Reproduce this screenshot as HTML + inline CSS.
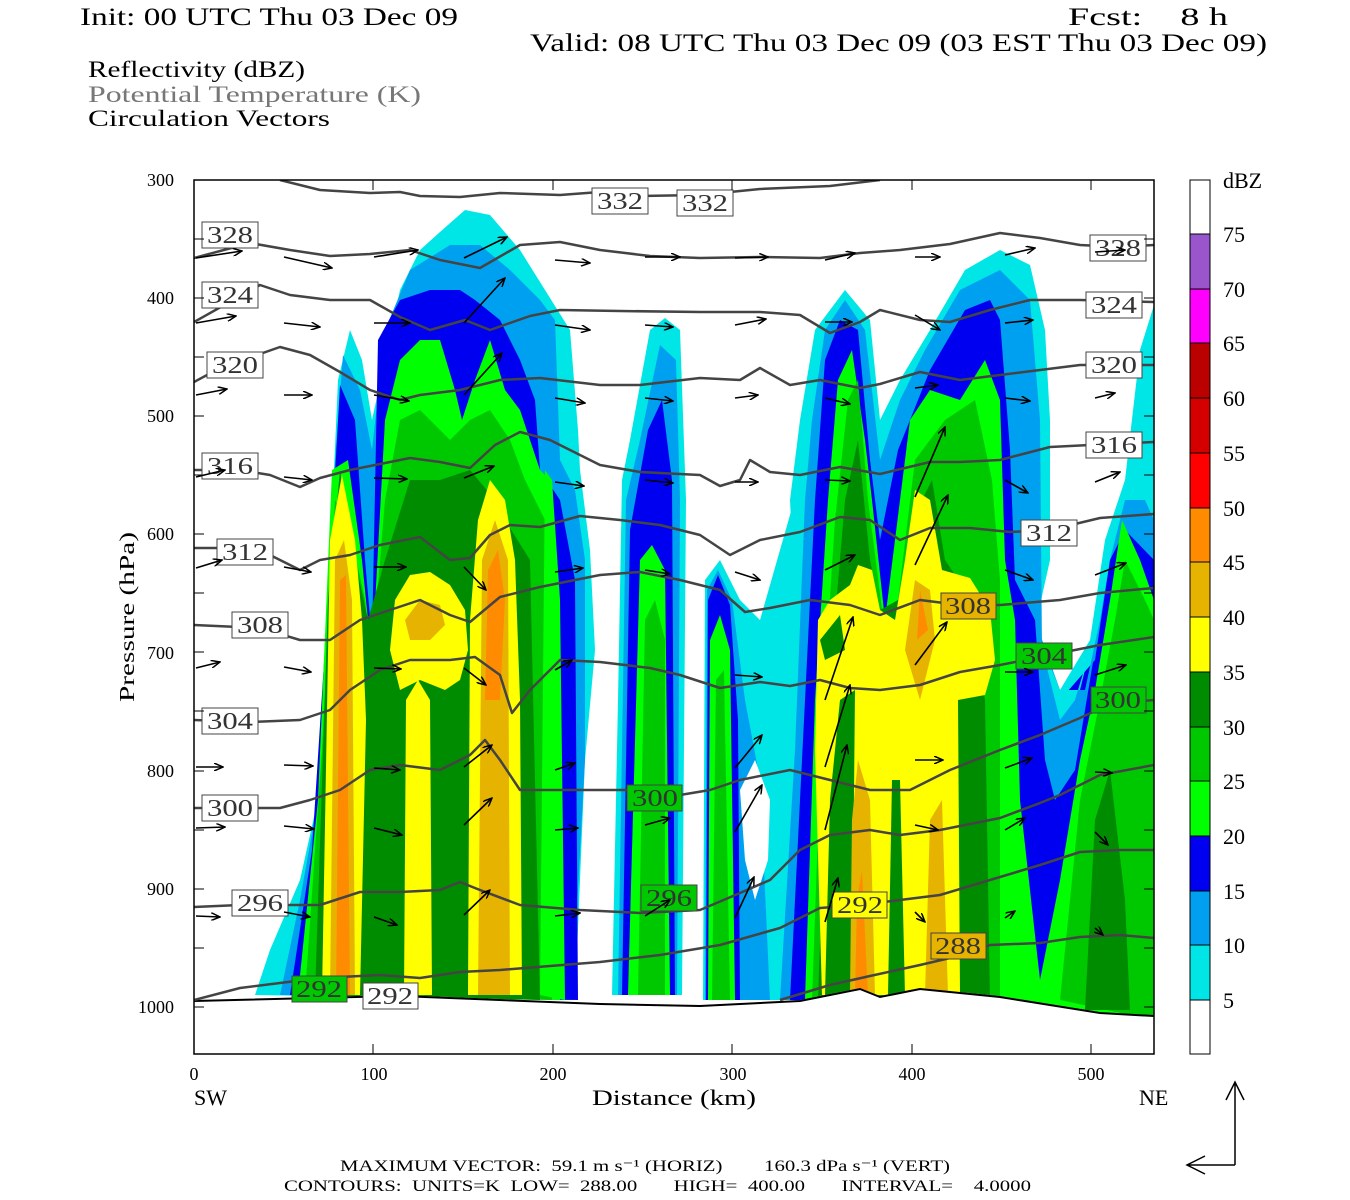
<!DOCTYPE html>
<html><head><meta charset="utf-8"><style>
html,body{margin:0;padding:0;background:#fff;}
svg{display:block;}
text{font-family:"Liberation Serif",serif;fill:#000;white-space:pre;}
</style></head><body>
<svg width="1350" height="1200" viewBox="0 0 1350 1200" xmlns="http://www.w3.org/2000/svg">
<defs>
<marker id="ah" markerWidth="10" markerHeight="8" refX="9" refY="4" orient="auto" markerUnits="userSpaceOnUse">
<path d="M0,0 L9,4 L0,8" fill="none" stroke="#000" stroke-width="1.5"/>
</marker>
<clipPath id="pc"><rect x="194" y="180" width="960" height="874"/></clipPath>
</defs>
<rect width="1350" height="1200" fill="#fff"/>

<!-- header -->
<text x="80" y="25" font-size="25" textLength="378" lengthAdjust="spacingAndGlyphs">Init: 00 UTC Thu 03 Dec 09</text>
<text x="1068" y="25" font-size="25" textLength="160" lengthAdjust="spacingAndGlyphs">Fcst:    8 h</text>
<text x="530" y="51" font-size="25" textLength="737" lengthAdjust="spacingAndGlyphs">Valid: 08 UTC Thu 03 Dec 09 (03 EST Thu 03 Dec 09)</text>
<text x="88" y="77" font-size="23" textLength="217" lengthAdjust="spacingAndGlyphs">Reflectivity (dBZ)</text>
<text x="88" y="102" font-size="23" textLength="333" lengthAdjust="spacingAndGlyphs" style="fill:#777">Potential Temperature (K)</text>
<text x="88" y="126" font-size="23" textLength="242" lengthAdjust="spacingAndGlyphs">Circulation Vectors</text>

<g clip-path="url(#pc)">
<!-- LEFT CLUSTER -->
<path fill="#00e6e6" d="M255,995 L270,950 L300,880 L320,790 L330,560 L338,380 L350,330 L362,360 L372,420 L385,360 L400,290 L420,250 L440,232 L465,210 L490,215 L520,250 L545,290 L570,330 L578,430 L580,470 L590,550 L595,650 L585,760 L575,1000 Z"/>
<path fill="#00a0f0" d="M280,995 L300,900 L318,800 L332,500 L343,355 L360,390 L372,450 L385,330 L410,270 L450,245 L480,245 L510,270 L540,300 L555,320 L560,460 L575,490 L585,560 L585,760 L572,1000 Z"/>
<path fill="#0000f0" d="M290,995 L312,850 L328,600 L340,385 L355,420 L365,560 L372,640 L378,340 L400,300 L430,290 L460,290 L475,300 L500,320 L520,360 L535,400 L540,470 L560,500 L575,580 L578,1000 Z"/>
<path fill="#00ff00" d="M298,995 L318,800 L332,470 L348,460 L362,560 L372,660 L385,420 L400,360 L420,340 L440,340 L455,390 L462,420 L475,380 L490,340 L505,390 L520,410 L530,440 L540,470 L550,480 L555,600 L560,1000 Z"/>
<path fill="#00c800" d="M305,995 L322,750 L335,500 L350,530 L365,600 L372,660 L385,500 L400,420 L420,410 L450,440 L470,420 L490,410 L510,440 L525,480 L545,520 L552,1000 Z"/>
<path fill="#008c00" d="M315,995 L328,600 L340,470 L355,560 L368,620 L385,560 L410,480 L440,480 L470,470 L495,500 L505,520 L530,560 L540,1000 Z"/>
<!-- yellow parts -->
<path fill="#ffff00" d="M322,995 L330,540 L342,475 L355,540 L362,620 L366,720 L360,995 Z"/>
<path fill="#ffff00" d="M390,650 L395,600 L410,575 L430,572 L450,585 L465,610 L468,650 L460,680 L445,690 L420,680 L400,690 Z"/>
<path fill="#ffff00" d="M404,995 L406,700 L418,680 L430,700 L432,995 Z"/>
<path fill="#ffff00" d="M468,995 L470,620 L478,520 L490,480 L505,500 L515,560 L520,700 L522,995 Z"/>
<path fill="#e6b400" d="M330,995 L335,560 L344,540 L352,600 L355,995 Z M405,620 L420,600 L440,605 L445,625 L430,640 L410,640 Z M478,995 L482,560 L495,520 L508,560 L510,995 Z"/>
<path fill="#ff8c00" d="M336,995 L340,580 L346,575 L350,995 Z M485,700 L488,570 L498,550 L505,600 L500,700 Z"/>
<path fill="#00ff00" d="M540,995 L545,470 L552,480 L560,600 L565,1000 Z"/>

<!-- CELL 2 -->
<path fill="#00e6e6" d="M612,995 L618,700 L622,480 L630,440 L650,330 L665,318 L680,330 L686,500 L682,995 Z"/>
<path fill="#00a0f0" d="M618,995 L626,500 L640,440 L660,345 L676,360 L680,500 L677,995 Z"/>
<path fill="#0000f0" d="M622,995 L630,530 L648,430 L662,400 L672,480 L675,995 Z"/>
<path fill="#00ff00" d="M628,995 L640,560 L652,545 L665,570 L670,995 Z"/>
<path fill="#00c800" d="M638,995 L645,620 L655,600 L665,640 L665,995 Z"/>

<!-- CELL 3 -->
<path fill="#00e6e6" d="M703,1000 L705,580 L720,560 L740,600 L760,620 L800,480 L810,520 L805,700 L790,900 L780,1000 Z"/>
<path fill="#00a0f0" d="M705,1000 L707,590 L718,570 L732,600 L745,700 L760,780 L770,1000 Z"/>
<path fill="#0000f0" d="M706,1000 L708,600 L718,575 L730,605 L738,720 L740,1000 Z"/>
<path fill="#00ff00" d="M708,1000 L710,640 L720,615 L730,650 L735,1000 Z"/>
<path fill="#00c800" d="M712,1000 L716,680 L724,670 L730,1000 Z"/>
<path fill="#fff" d="M740,790 L755,760 L770,800 L768,860 L755,900 L745,860 Z"/>

<!-- RIGHT CELL -->
<path fill="#00e6e6" d="M770,1000 L785,870 L795,600 L790,500 L800,420 L815,330 L845,290 L870,320 L880,420 L900,380 L930,330 L965,270 L1000,250 L1030,265 L1045,330 L1050,420 L1050,560 L1030,650 L1030,1000 Z"/>
<path fill="#00e6e6" d="M1020,1000 L1030,700 L1060,690 L1090,640 L1105,540 L1125,480 L1140,350 L1154,305 L1154,1020 Z"/>
<path fill="#00a0f0" d="M780,1000 L795,750 L805,500 L812,420 L825,330 L845,300 L865,330 L880,460 L900,400 L925,350 L960,290 L1000,270 L1030,300 L1040,420 L1042,650 L1035,1000 Z"/>
<path fill="#00a0f0" d="M1030,1000 L1045,700 L1080,700 L1095,650 L1110,560 L1125,500 L1145,500 L1154,520 L1154,1020 Z"/>
<path fill="#0000f0" d="M790,1000 L805,700 L815,500 L825,360 L840,320 L858,330 L870,460 L880,540 L898,450 L930,370 L965,310 L990,300 L1000,320 L1010,450 L1015,580 L1035,620 L1060,700 L1095,660 L1110,560 L1125,530 L1154,560 L1154,1020 Z"/>
<path fill="#00a0f0" d="M1035,620 L1060,690 L1085,690 L1100,620 L1075,770 L1055,800 L1045,760 Z"/>
<path fill="#00e6e6" d="M1040,640 L1060,690 L1080,690 L1090,650 L1075,700 L1060,720 Z"/>
<path fill="#00ff00" d="M805,1000 L815,700 L828,500 L838,380 L852,350 L865,440 L872,500 L885,620 L895,540 L910,420 L930,390 L960,400 L985,360 L1000,400 L1005,560 L1015,620 L1020,800 L1040,980 L1060,880 L1080,760 L1095,690 L1110,600 L1122,520 L1140,560 L1154,600 L1154,1020 Z"/>
<path fill="#00c800" d="M812,1000 L822,720 L835,520 L848,400 L858,380 L868,500 L882,610 L898,600 L915,460 L945,420 L975,400 L992,480 L1000,580 L1000,1000 Z"/>
<path fill="#00c800" d="M1060,1000 L1080,800 L1100,700 L1115,620 L1125,560 L1145,600 L1154,620 L1154,1020 Z"/>
<path fill="#008c00" d="M818,1000 L828,700 L845,500 L858,440 L870,560 L880,610 L898,600 L912,560 L922,500 L932,480 L945,560 L965,590 L985,700 L990,1000 Z"/>
<path fill="#008c00" d="M1085,1010 L1095,820 L1110,770 L1125,900 L1130,1010 Z"/>
<path fill="#ffff00" d="M822,995 L815,750 L818,620 L830,600 L850,585 L858,565 L872,570 L880,610 L895,620 L905,560 L915,490 L930,500 L942,570 L970,578 L990,610 L995,660 L985,695 L958,700 L960,995 Z"/>
<path fill="#008c00" d="M825,995 L830,800 L840,700 L855,690 L852,995 Z M888,995 L892,780 L900,780 L905,995 Z M820,640 L840,615 L845,650 L825,660 Z"/>
<path fill="#e6b400" d="M850,995 L852,820 L858,760 L870,800 L875,995 Z M905,650 L915,580 L930,590 L935,640 L920,700 Z M925,995 L930,820 L942,800 L948,995 Z"/>
<path fill="#ff8c00" d="M855,995 L857,900 L862,870 L868,995 Z M917,640 L920,590 L928,630 Z"/>

<!-- ground -->
<path fill="#fff" d="M194,1000 L400,995 L600,1003 L700,1005 L800,1000 L860,988 L880,996 L920,988 L1000,996 L1100,1012 L1154,1016 L1154,1054 L194,1054 Z"/>
<path fill="none" stroke="#000" stroke-width="2" d="M194,1001 L400,996 L600,1004 L700,1006 L800,1001 L860,989 L880,997 L920,989 L1000,997 L1100,1013 L1154,1016"/>

<!-- theta contours -->
<g fill="none" stroke="#444" stroke-width="2.5" stroke-linejoin="round">
<path d="M280,180 L320,190 L370,193 L400,192 L420,196 L460,197 L500,193 L560,195 L600,192 L640,196 L700,195 L760,189 L830,186 L880,180"/>
<path d="M194,258 L250,243 L290,250 L330,256 L370,254 L410,250 L440,260 L480,268 L520,245 L560,242 L600,250 L650,256 L700,258 L760,257 L820,258 L860,253 L900,250 L950,244 L1000,233 L1040,238 L1080,245 L1120,247 L1154,245"/>
<path d="M194,322 L260,285 L290,295 L330,300 L370,300 L400,317 L430,330 L465,320 L490,330 L530,316 L560,310 L620,311 L700,312 L760,312 L800,315 L830,333 L860,322 L880,310 L920,320 L950,322 L990,310 L1030,300 L1080,300 L1154,302"/>
<path d="M194,382 L220,368 L280,347 L310,355 L340,372 L370,390 L400,400 L420,395 L460,390 L500,380 L540,378 L600,385 L640,385 L700,378 L740,380 L760,368 L790,385 L820,380 L860,388 L880,384 L920,372 L960,380 L1000,375 L1040,370 L1080,365 L1154,365"/>
<path d="M194,470 L240,470 L270,475 L300,487 L320,478 L350,470 L380,464 L410,458 L440,462 L470,468 L495,445 L520,432 L550,440 L600,465 L640,472 L700,475 L720,486 L740,480 L750,460 L770,472 L800,475 L840,467 L880,474 L930,462 L960,462 L1000,460 L1050,447 L1090,445 L1154,442"/>
<path d="M194,548 L240,548 L270,555 L300,570 L320,560 L350,555 L380,545 L420,537 L450,560 L470,558 L490,535 L510,525 L540,527 L580,516 L620,520 L660,525 L700,535 L730,555 L760,540 L800,532 L840,517 L870,520 L900,540 L930,528 L970,528 L1010,532 L1050,530 L1100,518 L1154,514"/>
<path d="M194,625 L260,628 L300,640 L330,640 L360,620 L390,610 L420,600 L450,615 L470,622 L500,597 L540,587 L600,575 L640,572 L680,580 L720,590 L745,612 L770,608 L810,600 L850,605 L880,615 L920,600 L960,605 L1000,605 L1060,600 L1100,593 L1154,588"/>
<path d="M194,720 L250,722 L300,720 L330,710 L350,690 L380,670 L410,660 L450,660 L475,657 L500,675 L512,713 L530,690 L560,660 L600,662 L650,668 L680,675 L720,688 L760,682 L790,686 L820,680 L850,688 L880,690 L920,685 L960,672 L1000,665 L1050,655 L1100,645 L1154,637"/>
<path d="M194,808 L240,808 L280,808 L310,800 L340,790 L370,770 L400,765 L440,770 L470,755 L485,740 L500,760 L520,790 L560,790 L600,790 L640,790 L680,795 L710,790 L740,780 L790,770 L830,780 L870,790 L910,790 L950,770 L1000,750 L1040,735 L1080,718 L1110,704 L1154,700"/>
<path d="M194,907 L240,905 L280,905 L320,905 L360,892 L400,892 L440,890 L460,882 L480,890 L520,905 L580,910 L640,913 L700,910 L740,893 L770,880 L800,850 L830,835 L870,830 L900,835 L940,830 L1000,818 L1040,803 L1060,795 L1100,775 L1154,765"/>
<path d="M194,1000 L240,988 L280,983 L320,978 L380,975 L420,978 L460,972 L500,970 L550,966 L600,962 L660,955 L720,945 L780,928 L820,908 L860,905 L900,900 L940,895 L990,880 L1040,865 L1080,852 L1120,850 L1154,850"/>
<path d="M780,1000 L830,985 L870,976 L920,965 L950,958 L990,945 L1040,943 L1080,937 L1120,935 L1154,938"/>
</g>
</g>

<!-- contour labels -->
<g font-size="24" text-anchor="middle">
<rect x="592" y="188" width="56" height="26" fill="#fff" stroke="#444"/><text x="620" y="209" textLength="46" lengthAdjust="spacingAndGlyphs" style="fill:#333">332</text>
<rect x="677" y="190" width="56" height="26" fill="#fff" stroke="#444"/><text x="705" y="211" textLength="46" lengthAdjust="spacingAndGlyphs" style="fill:#333">332</text>
<rect x="202" y="222" width="56" height="26" fill="#fff" stroke="#444"/><text x="230" y="243" textLength="46" lengthAdjust="spacingAndGlyphs" style="fill:#333">328</text>
<rect x="1090" y="235" width="56" height="26" fill="#fff" stroke="#444"/><text x="1118" y="256" textLength="46" lengthAdjust="spacingAndGlyphs" style="fill:#333">328</text>
<rect x="202" y="282" width="56" height="26" fill="#fff" stroke="#444"/><text x="230" y="303" textLength="46" lengthAdjust="spacingAndGlyphs" style="fill:#333">324</text>
<rect x="1086" y="292" width="56" height="26" fill="#fff" stroke="#444"/><text x="1114" y="313" textLength="46" lengthAdjust="spacingAndGlyphs" style="fill:#333">324</text>
<rect x="207" y="352" width="56" height="26" fill="#fff" stroke="#444"/><text x="235" y="373" textLength="46" lengthAdjust="spacingAndGlyphs" style="fill:#333">320</text>
<rect x="1086" y="352" width="56" height="26" fill="#fff" stroke="#444"/><text x="1114" y="373" textLength="46" lengthAdjust="spacingAndGlyphs" style="fill:#333">320</text>
<rect x="202" y="453" width="56" height="26" fill="#fff" stroke="#444"/><text x="230" y="474" textLength="46" lengthAdjust="spacingAndGlyphs" style="fill:#333">316</text>
<rect x="1086" y="432" width="56" height="26" fill="#fff" stroke="#444"/><text x="1114" y="453" textLength="46" lengthAdjust="spacingAndGlyphs" style="fill:#333">316</text>
<rect x="217" y="539" width="56" height="26" fill="#fff" stroke="#444"/><text x="245" y="560" textLength="46" lengthAdjust="spacingAndGlyphs" style="fill:#333">312</text>
<rect x="1021" y="520" width="56" height="26" fill="#fff" stroke="#444"/><text x="1049" y="541" textLength="46" lengthAdjust="spacingAndGlyphs" style="fill:#333">312</text>
<rect x="232" y="612" width="56" height="26" fill="#fff" stroke="#444"/><text x="260" y="633" textLength="46" lengthAdjust="spacingAndGlyphs" style="fill:#333">308</text>
<rect x="941" y="593" width="55" height="26" fill="#e6b400" stroke="#444"/><text x="968" y="614" textLength="46" lengthAdjust="spacingAndGlyphs" style="fill:#333">308</text>
<rect x="202" y="708" width="56" height="26" fill="#fff" stroke="#444"/><text x="230" y="729" textLength="46" lengthAdjust="spacingAndGlyphs" style="fill:#333">304</text>
<rect x="1016" y="643" width="56" height="26" fill="#00c800" stroke="#444"/><text x="1044" y="664" textLength="46" lengthAdjust="spacingAndGlyphs" style="fill:#333">304</text>
<rect x="202" y="795" width="56" height="26" fill="#fff" stroke="#444"/><text x="230" y="816" textLength="46" lengthAdjust="spacingAndGlyphs" style="fill:#333">300</text>
<rect x="1091" y="687" width="55" height="26" fill="#00c800" stroke="#444"/><text x="1118" y="708" textLength="46" lengthAdjust="spacingAndGlyphs" style="fill:#333">300</text>
<rect x="627" y="785" width="55" height="26" fill="#00c800" stroke="#444"/><text x="655" y="806" textLength="46" lengthAdjust="spacingAndGlyphs" style="fill:#333">300</text>
<rect x="232" y="890" width="56" height="26" fill="#fff" stroke="#444"/><text x="260" y="911" textLength="46" lengthAdjust="spacingAndGlyphs" style="fill:#333">296</text>
<rect x="641" y="885" width="56" height="26" fill="#00c800" stroke="#444"/><text x="669" y="906" textLength="46" lengthAdjust="spacingAndGlyphs" style="fill:#333">296</text>
<rect x="292" y="976" width="55" height="26" fill="#00c800" stroke="#444"/><text x="319" y="997" textLength="46" lengthAdjust="spacingAndGlyphs" style="fill:#333">292</text>
<rect x="363" y="983" width="55" height="26" fill="#fff" stroke="#444"/><text x="390" y="1004" textLength="46" lengthAdjust="spacingAndGlyphs" style="fill:#333">292</text>
<rect x="832" y="892" width="55" height="26" fill="#ffff00" stroke="#444"/><text x="860" y="913" textLength="46" lengthAdjust="spacingAndGlyphs" style="fill:#333">292</text>
<rect x="931" y="933" width="55" height="26" fill="#e6b400" stroke="#444"/><text x="958" y="954" textLength="46" lengthAdjust="spacingAndGlyphs" style="fill:#333">288</text>
</g>

<!-- vectors -->
<g clip-path="url(#pc)" stroke="#000" stroke-width="1.6" marker-end="url(#ah)">
<line x1="196" y1="258" x2="242" y2="251"/><line x1="284" y1="257" x2="332" y2="268"/><line x1="374" y1="257" x2="418" y2="250"/><line x1="464" y1="258" x2="507" y2="237"/><line x1="555" y1="260" x2="590" y2="263"/><line x1="645" y1="257" x2="680" y2="257"/><line x1="735" y1="258" x2="768" y2="257"/><line x1="825" y1="260" x2="855" y2="253"/><line x1="915" y1="257" x2="940" y2="257"/><line x1="1005" y1="255" x2="1035" y2="248"/><line x1="1095" y1="252" x2="1125" y2="250"/>
<line x1="196" y1="323" x2="236" y2="316"/><line x1="284" y1="323" x2="320" y2="327"/><line x1="374" y1="323" x2="410" y2="323"/><line x1="464" y1="323" x2="505" y2="278"/><line x1="555" y1="325" x2="590" y2="330"/><line x1="645" y1="325" x2="673" y2="327"/><line x1="735" y1="325" x2="766" y2="319"/><line x1="825" y1="322" x2="852" y2="322"/><line x1="915" y1="315" x2="940" y2="330"/><line x1="1005" y1="323" x2="1033" y2="320"/>
<line x1="196" y1="395" x2="227" y2="389"/><line x1="284" y1="395" x2="312" y2="395"/><line x1="374" y1="395" x2="409" y2="401"/><line x1="464" y1="395" x2="502" y2="353"/><line x1="555" y1="398" x2="585" y2="403"/><line x1="645" y1="398" x2="673" y2="401"/><line x1="735" y1="398" x2="758" y2="395"/><line x1="825" y1="398" x2="850" y2="404"/><line x1="915" y1="388" x2="938" y2="385"/><line x1="1005" y1="398" x2="1030" y2="401"/><line x1="1095" y1="398" x2="1115" y2="393"/>
<line x1="196" y1="477" x2="225" y2="470"/><line x1="284" y1="477" x2="312" y2="480"/><line x1="374" y1="478" x2="407" y2="479"/><line x1="464" y1="478" x2="494" y2="466"/><line x1="555" y1="482" x2="584" y2="486"/><line x1="645" y1="480" x2="673" y2="483"/><line x1="735" y1="482" x2="758" y2="482"/><line x1="825" y1="480" x2="850" y2="481"/><line x1="915" y1="497" x2="945" y2="427"/><line x1="1005" y1="480" x2="1028" y2="493"/><line x1="1095" y1="482" x2="1120" y2="472"/>
<line x1="196" y1="568" x2="222" y2="560"/><line x1="284" y1="567" x2="311" y2="572"/><line x1="374" y1="567" x2="406" y2="567"/><line x1="464" y1="567" x2="486" y2="590"/><line x1="555" y1="572" x2="583" y2="568"/><line x1="645" y1="570" x2="670" y2="574"/><line x1="735" y1="572" x2="760" y2="580"/><line x1="825" y1="570" x2="855" y2="555"/><line x1="915" y1="565" x2="948" y2="495"/><line x1="1005" y1="570" x2="1033" y2="580"/><line x1="1095" y1="575" x2="1126" y2="563"/>
<line x1="196" y1="668" x2="220" y2="662"/><line x1="284" y1="667" x2="311" y2="672"/><line x1="374" y1="668" x2="401" y2="669"/><line x1="464" y1="668" x2="486" y2="685"/><line x1="555" y1="670" x2="572" y2="660"/><line x1="735" y1="675" x2="762" y2="677"/><line x1="825" y1="700" x2="853" y2="617"/><line x1="915" y1="665" x2="947" y2="622"/><line x1="1005" y1="672" x2="1033" y2="672"/><line x1="1095" y1="675" x2="1126" y2="665"/>
<line x1="196" y1="767" x2="223" y2="767"/><line x1="284" y1="765" x2="313" y2="766"/><line x1="374" y1="768" x2="400" y2="770"/><line x1="464" y1="767" x2="492" y2="745"/><line x1="555" y1="770" x2="575" y2="763"/><line x1="735" y1="768" x2="762" y2="735"/><line x1="825" y1="767" x2="850" y2="685"/><line x1="915" y1="760" x2="943" y2="760"/><line x1="1005" y1="768" x2="1032" y2="758"/><line x1="1095" y1="772" x2="1112" y2="773"/>
<line x1="196" y1="828" x2="225" y2="827"/><line x1="284" y1="826" x2="314" y2="829"/><line x1="374" y1="828" x2="402" y2="835"/><line x1="464" y1="825" x2="492" y2="798"/><line x1="555" y1="830" x2="578" y2="828"/><line x1="645" y1="825" x2="670" y2="818"/><line x1="735" y1="832" x2="762" y2="785"/><line x1="825" y1="830" x2="847" y2="745"/><line x1="915" y1="825" x2="938" y2="830"/><line x1="1005" y1="830" x2="1025" y2="818"/><line x1="1095" y1="832" x2="1108" y2="845"/>
<line x1="196" y1="916" x2="220" y2="917"/><line x1="284" y1="912" x2="310" y2="917"/><line x1="374" y1="917" x2="397" y2="925"/><line x1="464" y1="915" x2="490" y2="890"/><line x1="555" y1="916" x2="580" y2="913"/><line x1="645" y1="916" x2="670" y2="900"/><line x1="735" y1="918" x2="754" y2="877"/><line x1="825" y1="922" x2="838" y2="878"/><line x1="915" y1="912" x2="925" y2="922"/><line x1="1005" y1="918" x2="1015" y2="911"/><line x1="1095" y1="928" x2="1103" y2="935"/>
</g>

<!-- frame & ticks -->
<rect x="194" y="180" width="960" height="874" fill="none" stroke="#000" stroke-width="1.5"/>
<g stroke="#000" stroke-width="1">
<path d="M194,239 h10 M194,298 h10 M194,357 h10 M194,416 h10 M194,475 h10 M194,534 h10 M194,593 h10 M194,652 h10 M194,711 h10 M194,771 h10 M194,830 h10 M194,889 h10 M194,948 h10 M194,1007 h10"/>
<path d="M1154,239 h-10 M1154,298 h-10 M1154,357 h-10 M1154,416 h-10 M1154,475 h-10 M1154,534 h-10 M1154,593 h-10 M1154,652 h-10 M1154,711 h-10 M1154,771 h-10 M1154,830 h-10 M1154,889 h-10 M1154,948 h-10 M1154,1007 h-10"/>
<path d="M373,1054 v-10 M553,1054 v-10 M732,1054 v-10 M912,1054 v-10 M1091,1054 v-10 M373,180 v10 M553,180 v10 M732,180 v10 M912,180 v10 M1091,180 v10"/>
</g>

<!-- y labels -->
<g font-size="18" text-anchor="end">
<text x="174" y="186">300</text><text x="174" y="304">400</text><text x="174" y="422">500</text><text x="174" y="540">600</text><text x="174" y="659">700</text><text x="174" y="777">800</text><text x="174" y="895">900</text><text x="174" y="1013">1000</text>
</g>
<text transform="translate(134,617) rotate(-90)" font-size="21" text-anchor="middle" textLength="170" lengthAdjust="spacingAndGlyphs">Pressure (hPa)</text>
<g font-size="18" text-anchor="middle">
<text x="194" y="1080">0</text><text x="374" y="1080">100</text><text x="553" y="1080">200</text><text x="733" y="1080">300</text><text x="912" y="1080">400</text><text x="1091" y="1080">500</text>
</g>
<text x="194" y="1105" font-size="22">SW</text>
<text x="1139" y="1105" font-size="22">NE</text>
<text x="674" y="1105" font-size="22" text-anchor="middle" textLength="164" lengthAdjust="spacingAndGlyphs">Distance (km)</text>

<!-- colorbar -->
<g stroke="#000" stroke-width="1">
<rect x="1190" y="180" width="20" height="54" fill="#fff"/>
<rect x="1190" y="234" width="20" height="55" fill="#9955cc"/>
<rect x="1190" y="289" width="20" height="54" fill="#ff00ff"/>
<rect x="1190" y="343" width="20" height="55" fill="#bb0000"/>
<rect x="1190" y="398" width="20" height="55" fill="#d40000"/>
<rect x="1190" y="453" width="20" height="55" fill="#ff0000"/>
<rect x="1190" y="508" width="20" height="54" fill="#ff8c00"/>
<rect x="1190" y="562" width="20" height="55" fill="#e6b400"/>
<rect x="1190" y="617" width="20" height="55" fill="#ffff00"/>
<rect x="1190" y="672" width="20" height="55" fill="#008c00"/>
<rect x="1190" y="727" width="20" height="54" fill="#00c800"/>
<rect x="1190" y="781" width="20" height="55" fill="#00ff00"/>
<rect x="1190" y="836" width="20" height="55" fill="#0000f0"/>
<rect x="1190" y="891" width="20" height="54" fill="#00a0f0"/>
<rect x="1190" y="945" width="20" height="55" fill="#00e6e6"/>
<rect x="1190" y="1000" width="20" height="54" fill="#fff"/>
</g>
<g font-size="22">
<text x="1223" y="188">dBZ</text>
<text x="1223" y="242">75</text><text x="1223" y="297">70</text><text x="1223" y="351">65</text><text x="1223" y="406">60</text><text x="1223" y="461">55</text><text x="1223" y="516">50</text><text x="1223" y="570">45</text><text x="1223" y="625">40</text><text x="1223" y="680">35</text><text x="1223" y="735">30</text><text x="1223" y="789">25</text><text x="1223" y="844">20</text><text x="1223" y="899">15</text><text x="1223" y="953">10</text><text x="1223" y="1008">5</text>
</g>

<!-- reference vector arrows -->
<g stroke="#000" stroke-width="1.5" fill="none">
<path d="M1235,1165 V1082 M1226,1100 L1235,1082 L1244,1100"/>
<path d="M1235,1165 H1187 M1205,1156 L1187,1165 L1205,1174"/>
</g>

<!-- footer -->
<text x="340" y="1171" font-size="16" textLength="610" lengthAdjust="spacingAndGlyphs">MAXIMUM VECTOR:  59.1 m s⁻¹ (HORIZ)        160.3 dPa s⁻¹ (VERT)</text>
<text x="284" y="1191" font-size="16" textLength="747" lengthAdjust="spacingAndGlyphs">CONTOURS:  UNITS=K  LOW=  288.00       HIGH=  400.00       INTERVAL=    4.0000</text>
</svg>
</body></html>
